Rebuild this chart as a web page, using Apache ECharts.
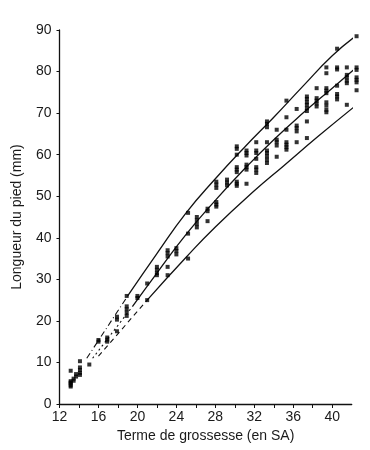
<!DOCTYPE html>
<html><head><meta charset="utf-8">
<script src="https://cdn.jsdelivr.net/npm/echarts@6/dist/echarts.min.js"></script>
<style>html,body{margin:0;padding:0;background:#fff}#c{width:370px;height:450px}</style>
</head><body><div id="c"></div>
<script>
// scatter columns (gestational week position) and foot lengths measured (mm)
const weekCols = [13.15,13.45,13.7,14.1,15.06,16.0,16.9,17.9,18.9,20.0,21.0,22.0,23.1,24.0,25.2,26.1,27.2,28.1,29.2,30.2,31.2,32.2,33.3,34.3,35.3,36.35,37.4,38.4,39.4,40.5,41.5,42.5];
const footCols = [
  [8,5.5,5,4.5,4.2,5.2],
  [5.6,6.1],
  [6.6,7.2],
  [10.3,8.8,8.2,7.5,7],
  [9.5],
  [15,15.4],
  [16,15.5,15],
  [21,20.3,17.5],
  [26,23.5,22.8,22,21.2],
  [26,25.5],
  [29,25],
  [33,32.3,31.5,31],
  [37,36.3,35.5,33,31],
  [37.5,36.8,36],
  [46,41,35],
  [45,44.2,43.3,42.5],
  [47,46.4,44],
  [53.5,52.8,52,48.6,48,47.5],
  [54,53.3,52.6],
  [62,61.4,60,57,56.4,55.8,53.5,53,52.5],
  [61,60.4,59.8,57.6,57,56.4,53],
  [63,61,60.4,59,57,56.4,55.6],
  [68,67.4,66.6,63,61,60.4,59.6,58.8,58],
  [66,63.6,63,62.2,59.5],
  [73,69,66,63,62.4,61.8,61.2],
  [71,67,66.4,65.6,63],
  [74,73.4,72.6,72,71.2,70.5,68,64],
  [76,73.6,73,72.3,71.6],
  [81,79.6,76,75.4,74.8,72.6,71.8,70.8,70.2],
  [85.5,81,80.5,76.6,74.6,74,73.3],
  [81,79.2,78.6,77.8,77.2,72],
  [88.5,81,80.4,78.6,78,77.4,75.5]
];
// fitted curves
const upperX = [19, 22, 25, 28, 31, 34, 37, 40, 42.4];
const upperY = [26, 36.2, 46, 54.2, 61.8, 69, 76.5, 83.8, 88.5];
const middleX = [19.5, 22, 25, 28, 31, 34, 37, 40, 42.4];
const middleY = [23.5, 31.5, 40.8, 49, 56.6, 63.6, 70, 76, 80.8];
const lowerX = [21, 25, 28, 32, 35, 38.5, 42.4];
const lowerY = [25, 35.3, 42.6, 51.3, 57.3, 64.3, 71.8];
// dashed extrapolations
const upperDashX = [14.8, 19];  const upperDashY = [11, 26];
const middleDashX = [15.4, 19.5]; const middleDashY = [11, 23.5];
const lowerDashX = [16, 21];   const lowerDashY = [11.5, 25];
// axis ticks
const xTicks = [12,14,16,18,20,22,24,26,28,30,32,34,36,38,40];
const xLabels = [12,16,20,24,28,32,36,40];

const zip = (xs, ys) => xs.map((x, i) => [x, ys[i]]);
const pts = [];
weekCols.forEach((w, i) => footCols[i].forEach(v => pts.push([w, v])));

const ink = '#111';
const lineSeries = (data, type, w, sm) => ({
  type: 'line', data, smooth: sm === undefined ? 0.5 : sm,
  showSymbol: false, symbol: 'none', clip: false,
  lineStyle: { color: ink, width: w || 1.3, type: type || 'solid' }, z: 2, silent: true
});

const chart = echarts.init(document.getElementById('c'), null, { renderer: 'canvas' });
chart.setOption({
  animation: false,
  backgroundColor: '#fff',
  grid: { left: 59.5, right: 18.3, top: 30, bottom: 46 },
  xAxis: {
    type: 'value', min: 12, max: 42, interval: 2,
    name: 'Terme de grossesse (en SA)', nameLocation: 'middle', nameGap: 22,
    nameTextStyle: { fontFamily: 'Liberation Sans', fontSize: 14, color: '#1a1a1a' },
    axisLine: { lineStyle: { color: ink, width: 1.3 } },
    axisTick: { show: true, length: 4, inside: false, customValues: xTicks, lineStyle: { color: ink } },
    axisLabel: { customValues: xLabels, margin: 6, fontFamily: 'Liberation Sans', fontSize: 14, color: '#1a1a1a' },
    splitLine: { show: false }
  },
  yAxis: {
    type: 'value', min: 0, max: 90, interval: 10,
    name: 'Longueur du pied (mm)', nameLocation: 'middle', nameGap: 35,
    nameTextStyle: { fontFamily: 'Liberation Sans', fontSize: 14, color: '#1a1a1a' },
    axisLine: { show: true, lineStyle: { color: ink, width: 1.3 } },
    axisTick: { show: true, length: 3, lineStyle: { color: ink } },
    axisLabel: { margin: 8, fontFamily: 'Liberation Sans', fontSize: 14, color: '#1a1a1a' },
    splitLine: { show: false }
  },
  series: [
    lineSeries(zip(upperX, upperY)),
    lineSeries(zip(middleX, middleY)),
    lineSeries(zip(lowerX, lowerY)),
    lineSeries(zip(upperDashX, upperDashY), [6, 3, 1, 3], 1.1, false),
    lineSeries(zip(middleDashX, middleDashY), [2, 3], 1.1, false),
    lineSeries(zip(lowerDashX, lowerDashY), [5, 4], 1.1, false),
    {
      type: 'scatter', data: pts, symbol: 'rect', symbolSize: [4, 4], clip: false,
      itemStyle: { color: '#000' }, z: 3, silent: true
    }
  ]
});
</script></body></html>
